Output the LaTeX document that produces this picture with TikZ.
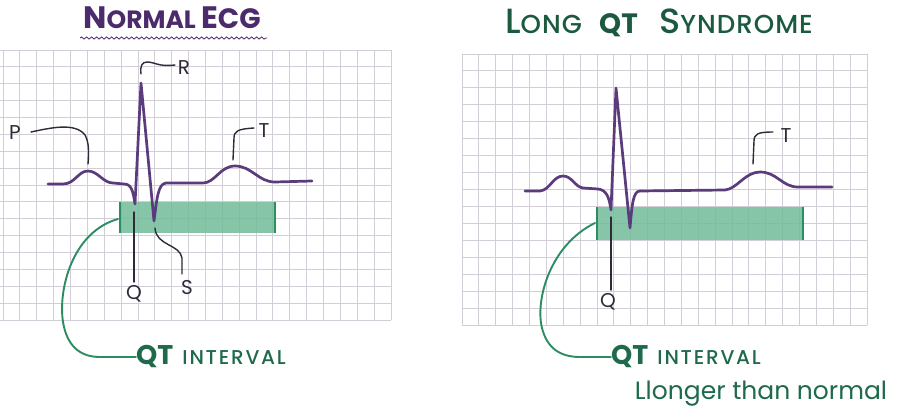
\documentclass[tikz,border=0pt]{standalone}
\usepackage{fontspec}
\setmainfont{Poppins}
\newfontfamily\pmed{Poppins Medium}
\newfontfamily\pmedsp{Poppins Medium}[LetterSpace=4]
\newfontfamily\pmedwide{Poppins Medium}[LetterSpace=9]
\usetikzlibrary{decorations.pathmorphing}
\definecolor{gridc}{HTML}{D2CDD6}
\definecolor{tracec}{HTML}{5A3B7C}
\definecolor{titlep}{HTML}{4B2B6C}
\definecolor{labc}{HTML}{2E2A38}
\definecolor{greenl}{HTML}{2C8C62}
\definecolor{greenf}{HTML}{72BC99}
\definecolor{greent}{HTML}{1E6A4A}
\definecolor{greenh}{HTML}{1C5A40}
\tikzset{
  gridline/.style={draw=gridc, line width=0.9pt},
  trace/.style={draw=tracec, line width=2.7pt, line join=round, line cap=round},
  qtbox/.style={fill=greenf, fill opacity=0.85, draw=none},
  qtedge/.style={draw=greenl, line width=1.6pt},
  labline/.style={draw=labc, line width=1.4pt, line cap=round},
  lab/.style={text=labc, font=\fontsize{20}{20}\selectfont, inner sep=0pt},
  conn/.style={draw=greenl, line width=1.9pt, line cap=round},
  qtlab/.style={text=greent, inner sep=0pt, anchor=west},
  rtitle/.style={text=greenh, inner sep=0pt, anchor=base west},
}
\newcommand{\qtinterval}{{\fontsize{27}{27}\selectfont\bfseries QT}\hspace{9pt}{\pmedwide\fontsize{20}{20}\selectfont INTERVAL}}
\begin{document}
\begin{tikzpicture}[x=1pt,y=-1pt]
\useasboundingbox (0,0) rectangle (900,420);
\fill[white] (0,0) rectangle (900,420);
% ---------------- left grid
\foreach \k in {0,...,16} {\draw[gridline] (0,50+16.875*\k) -- (391,50+16.875*\k);}
\foreach \k in {0,...,23} {\draw[gridline] (3+16.87*\k,50) -- (3+16.87*\k,320);}
% ---------------- right grid
\foreach \k in {0,...,16} {\draw[gridline] (462,54+16.94*\k) -- (867,54+16.94*\k);}
\foreach \k in {0,...,24} {\draw[gridline] (462+16.875*\k,54) -- (462+16.875*\k,325);}
% ---------------- titles
\node[text=titlep, inner sep=0pt, font=\bfseries] (t1) at (172,18)
  {\fontsize{31}{31}\selectfont N\fontsize{25}{25}\selectfont ORMAL \fontsize{31}{31}\selectfont E\fontsize{28}{28}\selectfont CG};
\draw[titlep, line width=0.8pt, decorate, decoration={snake, amplitude=1.1pt, segment length=5pt}] (80,38) -- (267,38);
\node[rtitle] (t2a) at (505,34) {{\pmed\fontsize{35}{35}\selectfont L}{\pmedsp\fontsize{26}{26}\selectfont ONG}};
\node[rtitle] (t2b) at (599,34) {{\fontsize{28}{28}\selectfont\bfseries QT}};
\node[rtitle] (t2c) at (659,34) {{\pmed\fontsize{35}{35}\selectfont S}{\pmedsp\fontsize{26}{26}\selectfont YNDROME}};
% ---------------- left QT box
\fill[qtbox] (120,202) rectangle (275,233);
\coordinate (bl1) at (120,202); \coordinate (bl2) at (120,233);
\coordinate (br1) at (275,202); \coordinate (br2) at (275,233);
\draw[qtedge] (bl1) -- (bl2);
\draw[qtedge] (br1) -- (br2);
% left trace
\draw[trace] (48,184) -- (63,184) .. controls (75,184) and (78,171) .. (88,171)
  .. controls (98,171) and (103,183) .. (113,183) -- (124,184)
  .. controls (131,184) and (133,190) .. (135,204) -- (141,83) -- (154,221)
  .. controls (157,198) and (158,184) .. (166,183) -- (203,183)
  .. controls (215,183) and (220,166) .. (235,166)
  .. controls (252,166) and (258,182) .. (275,182) -- (312,181);
% left labels
\node[lab] (R1) at (184,68) {R};
\draw[labline] (141,74) .. controls (140,66) and (142,62) .. (147,62) .. controls (155,62) and (158,67) .. (175,65);
\node[lab] (P1) at (15,133) {P};
\draw[labline] (31,132) .. controls (50,128) and (75,122) .. (85,135) .. controls (89,142) and (89,152) .. (88,164);
\node[lab] (T1) at (264,131) {T};
\draw[labline] (233,160) -- (234,138) .. controls (234,131) and (238,129) .. (254,128);
\node[lab] (Q1) at (134,294) {Q};
\draw[labline] (134,212) -- (134,282);
\node[lab] (S1) at (187,288) {S};
\draw[labline] (155,228) .. controls (156,246) and (180,244) .. (182,258) -- (182,274);
% left QT connector
\node[qtlab] (qt1) at (136,357) {\qtinterval};
\draw[conn] (118,219) .. controls (72,232) and (58,290) .. (63,322)
  .. controls (67,346) and (80,357) .. (100,357) -- (qt1.west);
% ---------------- right QT box
\fill[qtbox] (597,207) rectangle (803,240);
\coordinate (cl1) at (597,207); \coordinate (cl2) at (597,240);
\coordinate (cr1) at (803,207); \coordinate (cr2) at (803,240);
\draw[qtedge] (cl1) -- (cl2);
\draw[qtedge] (cr1) -- (cr2);
% right trace
\draw[trace] (525,191) -- (540,191) .. controls (550,190) and (553,176) .. (563,176)
  .. controls (572,176) and (575,187) .. (583,188) -- (598,189)
  .. controls (606,190) and (609,196) .. (611,210) -- (616,88) -- (630,228)
  .. controls (632,205) and (633,191) .. (640,191) -- (725,190)
  .. controls (737,189) and (745,172) .. (760,172)
  .. controls (777,172) and (782,187) .. (798,187) -- (832,187);
\node[lab] (T2) at (786,136) {T};
\draw[labline] (753,164) -- (754,141) .. controls (754,134) and (758,132) .. (773,132);
\node[lab] (Q2) at (608,302) {Q};
\draw[labline] (611,217) -- (611,290);
% right connector
\node[qtlab] (qt2) at (611,357) {\qtinterval};
\draw[conn] (595,223) .. controls (550,245) and (535,300) .. (542,328)
  .. controls (547,348) and (560,357) .. (580,357) -- (qt2.west);
\node[text=greent, inner sep=0pt, font=\fontsize{25}{25}\selectfont] (lg) at (761,394) {Llonger than normal};
\end{tikzpicture}
\end{document}
